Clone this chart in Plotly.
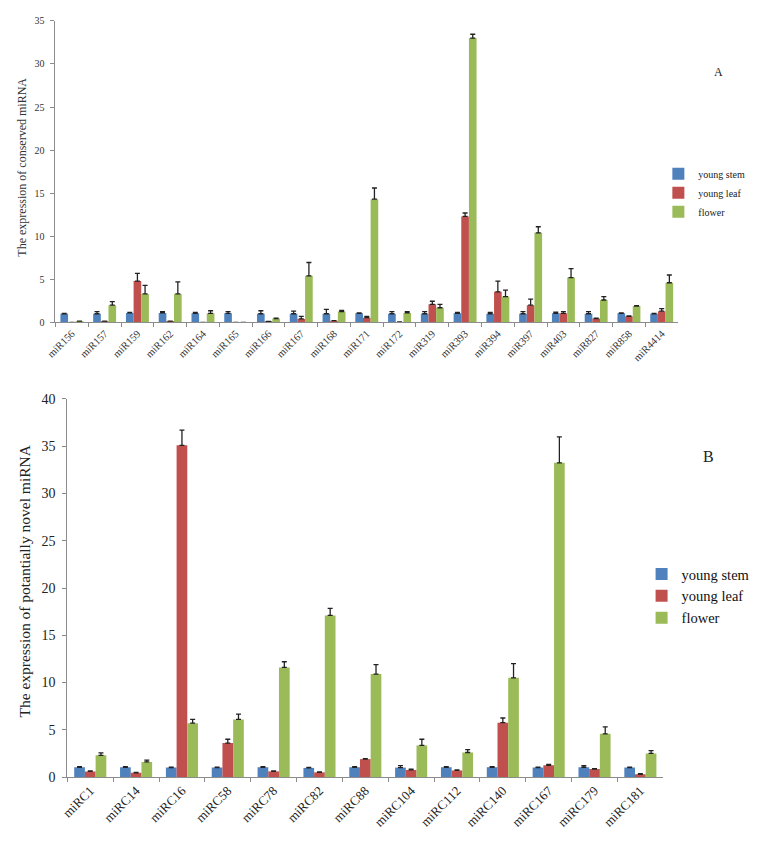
import plotly.graph_objects as go

# ---------------- Data: panel A (conserved miRNA) ----------------
cats_a = ["miR156", "miR157", "miR159", "miR162", "miR164", "miR165", "miR166",
          "miR167", "miR168", "miR171", "miR172", "miR319", "miR393", "miR394",
          "miR397", "miR403", "miR827", "miR858", "miR4414"]
stem_a = [1.0, 1.0, 1.1, 1.1, 1.05, 1.05, 1.0, 1.0, 1.0, 1.05, 1.0, 1.0, 1.05, 1.0,
          1.0, 1.05, 1.0, 1.05, 1.0]
stem_a_err = [0.05, 0.25, 0.05, 0.15, 0.1, 0.2, 0.35, 0.3, 0.5, 0.05, 0.25, 0.25, 0.1, 0.15,
              0.25, 0.15, 0.25, 0.05, 0.05]
leaf_a = [0.0, 0.15, 4.8, 0.15, 0.0, 0.0, 0.1, 0.4, 0.2, 0.55, 0.05, 2.1, 12.3, 3.55,
          2.0, 1.05, 0.45, 0.7, 1.3]
leaf_a_err = [0.0, 0.0, 0.9, 0.0, 0.0, 0.0, 0.0, 0.3, 0.0, 0.15, 0.0, 0.35, 0.4, 1.25,
              0.7, 0.2, 0.05, 0.05, 0.3]
flower_a = [0.15, 2.0, 3.3, 3.3, 1.05, 0.0, 0.45, 5.4, 1.25, 14.3, 1.1, 1.7, 33.0, 3.0,
            10.4, 5.2, 2.6, 1.9, 4.6]
flower_a_err = [0.0, 0.4, 1.0, 1.4, 0.3, 0.0, 0.05, 1.55, 0.15, 1.3, 0.15, 0.4, 0.45, 0.75,
                0.7, 1.05, 0.4, 0.05, 0.9]

# ---------------- Data: panel B (potentially novel miRNA) ----------------
cats_b = ["miRC1", "miRC14", "miRC16", "miRC58", "miRC78", "miRC82", "miRC88",
          "miRC104", "miRC112", "miRC140", "miRC167", "miRC179", "miRC181"]
stem_b = [1.04, 1.04, 1.0, 1.0, 1.04, 0.97, 1.04, 1.0, 1.04, 1.04, 1.0, 1.04, 1.0]
stem_b_err = [0.05, 0.05, 0.05, 0.05, 0.05, 0.05, 0.05, 0.2, 0.05, 0.05, 0.05, 0.17, 0.05]
leaf_b = [0.6, 0.45, 35.1, 3.6, 0.6, 0.5, 1.9, 0.75, 0.7, 5.75, 1.25, 0.85, 0.3]
leaf_b_err = [0.05, 0.05, 1.6, 0.4, 0.05, 0.05, 0.05, 0.1, 0.05, 0.5, 0.1, 0.05, 0.05]
flower_b = [2.3, 1.6, 5.7, 6.1, 11.6, 17.1, 10.9, 3.35, 2.6, 10.5, 33.25, 4.57, 2.5]
flower_b_err = [0.25, 0.2, 0.4, 0.55, 0.6, 0.75, 1.0, 0.65, 0.3, 1.5, 2.75, 0.75, 0.3]

series_names = ["young stem", "young leaf", "flower"]
colors = ["#4F81BD", "#C0504D", "#9BBB59"]

SERIF = "Times New Roman, Liberation Serif, serif"
# The page body has an 8px default margin on every side, so the figure is sized
# to fit inside the 759x851 window without scrolling; positions are given in
# window pixels and converted to paper fractions.
OFF = 8
W, H = 759 - OFF, 851 - 2 * OFF

fig = go.Figure()

def add_panel(cats, vals, errs, xaxis, yaxis, legend):
    for name, v, e, c in zip(series_names, vals, errs, colors):
        fig.add_trace(go.Bar(
            x=cats, y=v, name=name, marker=dict(color=c, line=dict(width=0)),
            error_y=dict(type="data", array=e, arrayminus=[0] * len(e), symmetric=False,
                         color="#222222", thickness=1.3, width=2.5),
            xaxis=xaxis, yaxis=yaxis, legend=legend,
        ))

add_panel(cats_a, [stem_a, leaf_a, flower_a], [stem_a_err, leaf_a_err, flower_a_err],
          "x", "y", "legend")
add_panel(cats_b, [stem_b, leaf_b, flower_b], [stem_b_err, leaf_b_err, flower_b_err],
          "x2", "y2", "legend2")

def px(v):
    return (v - OFF) / W

def py(v):
    return 1 - (v - OFF) / H

axis_common = dict(showline=True, linecolor="#8C8C8C", linewidth=1, ticks="outside",
                   tickcolor="#8C8C8C", ticklen=4, showgrid=False, zeroline=False)

fig.update_layout(
    width=W, height=H, margin=dict(l=0, r=0, t=0, b=0),
    paper_bgcolor="white", plot_bgcolor="white",
    barmode="group", bargap=0.3, bargroupgap=0,
    font=dict(family=SERIF, color="#333333"),
    xaxis=dict(domain=[px(46), px(677)], anchor="y", type="category", tickangle=-45,
               tickson="boundaries", tickfont=dict(size=10.5, family=SERIF, color="#333333"),
               **axis_common),
    yaxis=dict(domain=[py(321), py(14)], anchor="x", range=[0, 35], dtick=5,
               ticklabelstandoff=4,
               tickfont=dict(size=10, family=SERIF, color="#333333"), **axis_common),
    xaxis2=dict(domain=[px(58), px(662)], anchor="y2", type="category", tickangle=-45,
                tickson="boundaries", tickfont=dict(size=13, family=SERIF, color="#222222"),
                **axis_common),
    yaxis2=dict(domain=[py(784), py(399)], anchor="x2", range=[0, 40], dtick=5,
                ticklabelstandoff=4,
                tickfont=dict(size=14, family=SERIF, color="#222222"), **axis_common),
    legend=dict(x=px(657), y=py(155), xanchor="left", yanchor="top",
                font=dict(size=10, family=SERIF, color="#222222"),
                bgcolor="rgba(0,0,0,0)", tracegroupgap=0),
    legend2=dict(x=px(640), y=py(561), xanchor="left", yanchor="top",
                 font=dict(size=14.5, family=SERIF, color="#111111"),
                 bgcolor="rgba(0,0,0,0)", tracegroupgap=0),
    showlegend=True,
)

ann_common = dict(xref="paper", yref="paper", showarrow=False,
                  xanchor="center", yanchor="middle")
fig.add_annotation(text="The expression of conserved miRNA", x=px(12.5), y=py(163),
                   textangle=-90, font=dict(size=12, family=SERIF, color="#333333"),
                   **ann_common)
fig.add_annotation(text="The expression of potantially novel miRNA", x=px(15), y=py(584),
                   textangle=-90, font=dict(size=15.5, family=SERIF, color="#222222"),
                   **ann_common)
fig.add_annotation(text="A", x=px(718), y=py(66),
                   font=dict(size=12, family=SERIF, color="#222222"), **ann_common)
fig.add_annotation(text="B", x=px(708), y=py(458),
                   font=dict(size=16, family=SERIF, color="#222222"), **ann_common)

fig.write_html("out.html")
